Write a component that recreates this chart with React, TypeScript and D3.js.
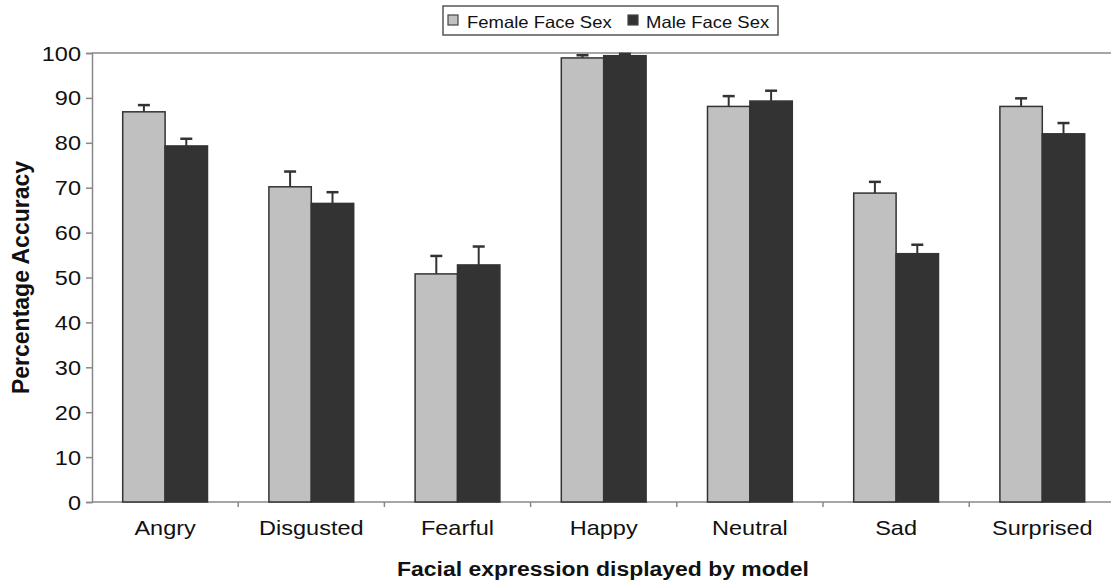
import React, { useEffect, useRef } from 'react';
import * as d3 from 'd3';

const categories = ['Angry', 'Disgusted', 'Fearful', 'Happy', 'Neutral', 'Sad', 'Surprised'];
const seriesNames = ['Female Face Sex', 'Male Face Sex'];
const femaleMeans = [86.9, 70.2, 50.8, 98.9, 88.1, 68.8, 88.1];
const femaleErr = [1.5, 3.4, 4.0, 0.6, 2.3, 2.5, 1.8];
const maleMeans = [79.3, 66.5, 52.8, 99.4, 89.3, 55.3, 82.0];
const maleErr = [1.6, 2.5, 4.1, 0.4, 2.3, 2.0, 2.4];
const yTicks = [0, 10, 20, 30, 40, 50, 60, 70, 80, 90, 100];
const colors = ['#c0c0c0', '#333333'];

const App = () => {
  const svgRef = useRef(null);

  useEffect(() => {
    const width = 1111, height = 584;
    const margin = { top: 53, right: 0, bottom: 82, left: 92 };
    const svg = d3.select(svgRef.current);
    svg.selectAll('*').remove();
    const font = "'Liberation Sans', Arial, sans-serif";
    const stretch = 1.12; // the source text looks a bit wider than tall

    const x = d3.scaleBand()
      .domain(categories)
      .range([margin.left, margin.left + 146.2 * 7])
      .paddingInner(0.42)
      .paddingOuter(0.21);
    const xSub = d3.scaleBand().domain(seriesNames).range([0, x.bandwidth()]);
    const y = d3.scaleLinear().domain([0, 100]).range([height - margin.bottom, margin.top]);

    // helper for horizontally stretched text
    const addText = (g, tx, ty, str, size, anchor, weight = 'normal') =>
      g.append('text')
        .attr('transform', `translate(${tx},${ty}) scale(${stretch},1)`)
        .attr('text-anchor', anchor)
        .attr('font-family', font).attr('font-size', size).attr('font-weight', weight)
        .attr('fill', '#111')
        .text(str);

    // top line at 100
    svg.append('line')
      .attr('x1', margin.left).attr('x2', width)
      .attr('y1', y(100)).attr('y2', y(100))
      .attr('stroke', '#888').attr('stroke-width', 1.5);

    // y axis
    const yAxis = svg.append('g')
      .attr('transform', `translate(${margin.left},0)`)
      .call(d3.axisLeft(y).tickValues(yTicks).tickSize(6).tickFormat(() => ''));
    yAxis.select('.domain').attr('stroke', '#888').attr('stroke-width', 1.5);
    yAxis.selectAll('.tick line').attr('stroke', '#888').attr('stroke-width', 1.5);
    yTicks.forEach(t => addText(svg, 81, y(t) + 7.5, String(t), 21, 'end'));

    // x axis
    const xAxisG = svg.append('g').attr('transform', `translate(0,${y(0)})`);
    xAxisG.append('line')
      .attr('x1', margin.left).attr('x2', width)
      .attr('stroke', '#888').attr('stroke-width', 1.5);
    xAxisG.selectAll('line.tk')
      .data(categories.slice(1))
      .join('line')
      .attr('class', 'tk')
      .attr('x1', d => x(d) - x.step() * 0.21).attr('x2', d => x(d) - x.step() * 0.21)
      .attr('y1', 0).attr('y2', 5)
      .attr('stroke', '#888').attr('stroke-width', 1.5);
    categories.forEach(c => addText(xAxisG, x(c) + x.bandwidth() / 2, 33, c, 21, 'middle'));

    const data = categories.map((c, i) => [
      { key: seriesNames[0], cat: c, v: femaleMeans[i], e: femaleErr[i], color: colors[0] },
      { key: seriesNames[1], cat: c, v: maleMeans[i], e: maleErr[i], color: colors[1] },
    ]).flat();

    // error bars (behind bars)
    const eb = svg.append('g');
    data.forEach(d => {
      const cx = x(d.cat) + xSub(d.key) + xSub.bandwidth() / 2;
      eb.append('line')
        .attr('x1', cx).attr('x2', cx)
        .attr('y1', y(d.v)).attr('y2', y(d.v + d.e))
        .attr('stroke', '#333').attr('stroke-width', 2);
      eb.append('line')
        .attr('x1', cx - 6).attr('x2', cx + 6)
        .attr('y1', y(d.v + d.e)).attr('y2', y(d.v + d.e))
        .attr('stroke', '#333').attr('stroke-width', 2.5);
    });

    svg.append('g')
      .selectAll('rect')
      .data(data)
      .join('rect')
      .attr('x', d => x(d.cat) + xSub(d.key))
      .attr('y', d => y(d.v))
      .attr('width', xSub.bandwidth())
      .attr('height', d => y(0) - y(d.v))
      .attr('fill', d => d.color)
      .attr('stroke', '#333')
      .attr('stroke-width', 1.5);

    // axis titles
    addText(svg, 603, 576, 'Facial expression displayed by model', 20.5, 'middle', 'bold');
    svg.append('text')
      .attr('transform', `translate(29,${(y(0) + y(100)) / 2}) rotate(-90)`)
      .attr('text-anchor', 'middle')
      .attr('font-family', font).attr('font-size', 23).attr('font-weight', 'bold').attr('fill', '#111')
      .text('Percentage Accuracy');

    // legend
    const lg = svg.append('g').attr('transform', 'translate(443,6)');
    lg.append('rect')
      .attr('width', 335).attr('height', 29)
      .attr('fill', '#fff').attr('stroke', '#555').attr('stroke-width', 1.5);
    const swatchX = [5, 185];
    const textX = [24, 203];
    seriesNames.forEach((s, i) => {
      lg.append('rect')
        .attr('x', swatchX[i]).attr('y', 9)
        .attr('width', 10).attr('height', 10)
        .attr('fill', colors[i]).attr('stroke', '#444').attr('stroke-width', 1.2);
      addText(lg, textX[i], 21.5, s, 16.5, 'start');
    });
  }, []);

  return <svg ref={svgRef} width={1111} height={584} style={{ position: 'absolute', left: 0, top: 0 }} />;
};

export default App;
